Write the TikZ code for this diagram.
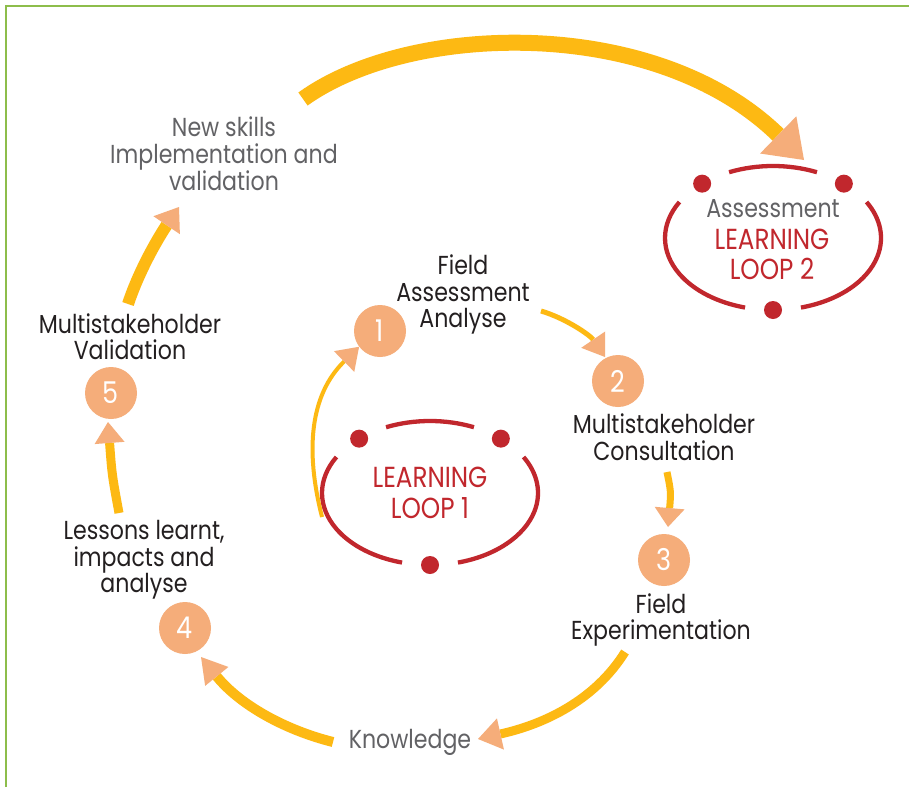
\documentclass[tikz,border=0pt]{standalone}
\usepackage{fontspec}
\setmainfont{Poppins}[FakeStretch=0.85]
\usetikzlibrary{arrows.meta}

\definecolor{band}{HTML}{FDB913}
\definecolor{peach}{HTML}{F5AD7A}
\definecolor{loopred}{HTML}{C1272D}
\definecolor{framegreen}{HTML}{8DBD4B}
\definecolor{ink}{HTML}{231F20}
\definecolor{softink}{HTML}{626265}

\tikzset{
  stepnum/.style={circle, fill=peach, minimum size=52pt, inner sep=0pt,
    text=white, font=\fontsize{30}{30}\selectfont},
  steptext/.style={align=center, text=ink, inner sep=0pt,
    font=\fontsize{26}{26.5}\selectfont},
  softtext/.style={steptext, text=softink},
  looptext/.style={align=center, text=loopred, inner sep=0pt,
    font=\fontsize{29}{30.5}\selectfont},
  loopline/.style={draw=loopred, line width=4.3pt},
  loopdot/.style={circle, fill=loopred, minimum size=18pt, inner sep=0pt},
  flowarrow/.style n args={3}{draw=band, line width=#1,
    -{Triangle[length=#2, width=#3, line width=0pt, color=peach, fill=peach]}},
}

\begin{document}
\begin{tikzpicture}[x=1pt, y=-1pt]
  \fill[white] (0,0) rectangle (909,787);
  \useasboundingbox (0,0) rectangle (909,787);

  % frame lines
  \draw[framegreen, line width=2pt] (6,787) -- (6,6) -- (909,6);

  % learning loop ellipses
  \coordinate (L1) at (430,493);
  \coordinate (L2) at (773,238);
  \foreach \c in {L1,L2}{
    \draw[loopline] (\c) ++(66:108pt and 72pt)
      arc[start angle=66, end angle=114, x radius=108pt, y radius=72pt];
    \draw[loopline] (\c) ++(150:108pt and 72pt)
      arc[start angle=150, end angle=255, x radius=108pt, y radius=72pt];
    \draw[loopline] (\c) ++(-75:108pt and 72pt)
      arc[start angle=-75, end angle=30, x radius=108pt, y radius=72pt];
    \path (\c) ++(131:108pt and 72pt) node[loopdot] (\c dl) {};
    \path (\c) ++(49:108pt and 72pt) node[loopdot] (\c dr) {};
    \path (\c) ++(270:108pt and 72pt) node[loopdot] (\c db) {};
  }

  % numbered steps
  \node[stepnum] (n1) at (380,331) {1};
  \node[stepnum] (n2) at (618,381) {2};
  \node[stepnum] (n3) at (664,560) {3};
  \node[stepnum] (n4) at (185,628) {4};
  \node[stepnum] (n5) at (111,393) {5};

  % texts
  \node[steptext] (fieldA) at (463,294.5) {Field\\Assessment\\Analyse};
  \node[steptext] (consult) at (664,437) {Multistakeholder\\Consultation};
  \node[steptext] (experim) at (661,620) {Field\\Experimentation};
  \node[steptext] (lessons) at (144,560) {Lessons learnt,\\impacts and\\analyse};
  \node[steptext] (validat) at (130,336.5) {Multistakeholder\\Validation};
  \node[softtext] (newskills) at (224,154) {New skills\\Implementation and\\validation};
  \node[softtext, anchor=base] (knowledge) at (410,748) {Knowledge};
  \node[softtext, anchor=base] (assess) at (773,217) {Assessment};
  \node[looptext] (loop2) at (772,254.5) {LEARNING\\LOOP 2};
  \node[looptext] (loop1) at (430,493) {LEARNING\\LOOP 1};

  % connector end points
  \coordinate (aS) at (303,99);   \coordinate (aE) at (804,160);
  \coordinate (bS) at (322,517);
  \coordinate (cS) at (541,311);  \coordinate (cE) at (605,357);
  \coordinate (dS) at (667,472);  \coordinate (dE) at (668,527);
  \coordinate (eS) at (625,652);  \coordinate (eE) at (478,739);
  \coordinate (fS) at (333,742);  \coordinate (fE) at (201,657);
  \coordinate (gS) at (119,513);  \coordinate (gE) at (108,422);
  \coordinate (hS) at (128,304);  \coordinate (hE) at (179,207);

  % flow arrows
  \draw[flowarrow={16pt}{36pt}{52pt}] (aS) .. controls (410,22) and (655,15) .. (aE);
  \draw[flowarrow={4pt}{21pt}{29pt}] (bS) .. controls (305,450) and (310,395) .. (n1.217);
  \draw[flowarrow={5pt}{21pt}{29pt}] (cS) .. controls (565,318) and (590,335) .. (cE);
  \draw[flowarrow={7pt}{19pt}{30pt}] (dS) .. controls (671,492) .. (dE);
  \draw[flowarrow={9pt}{23pt}{32pt}] (eS) .. controls (595,700) and (545,724) .. (eE);
  \draw[flowarrow={10pt}{25pt}{30pt}] (fS) .. controls (285,730) and (240,705) .. (fE);
  \draw[flowarrow={9pt}{21pt}{30pt}] (gS) .. controls (112,475) .. (gE);
  \draw[flowarrow={12pt}{22pt}{32pt}] (hS) .. controls (140,268) and (160,235) .. (hE);
\end{tikzpicture}
\end{document}
